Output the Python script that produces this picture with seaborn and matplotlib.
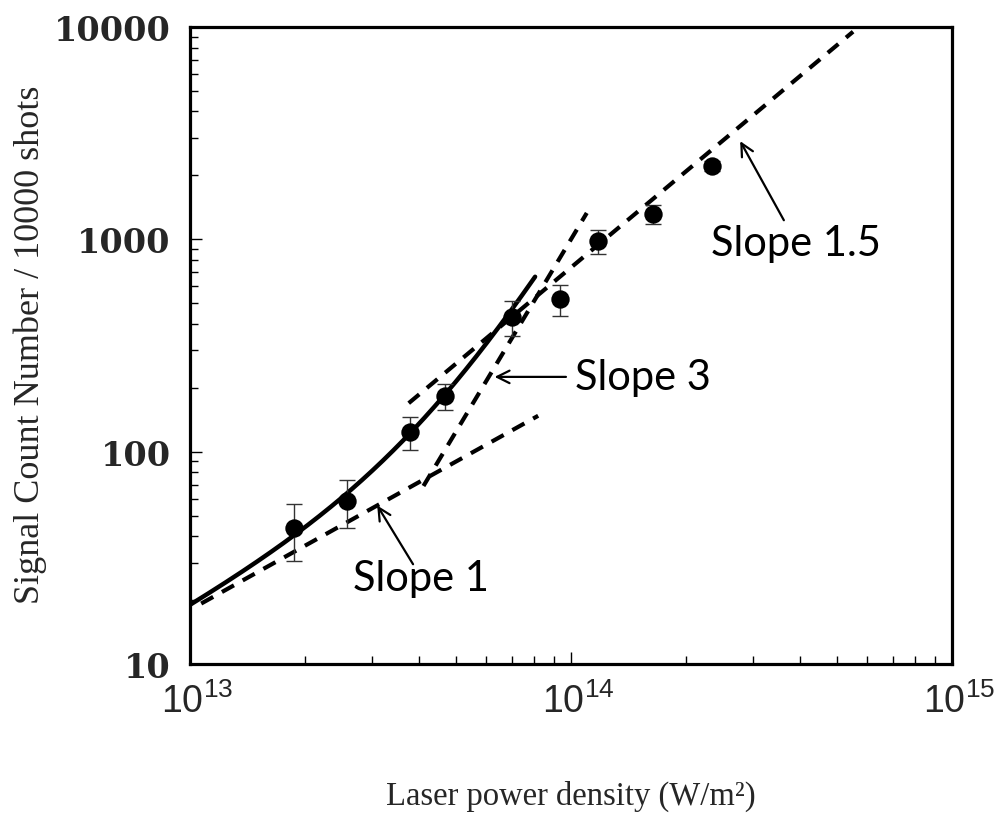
import numpy as np
import pandas as pd
import matplotlib
matplotlib.use("Agg")
import matplotlib.pyplot as plt
import matplotlib.transforms as mtransforms
from matplotlib.ticker import FixedLocator, LogLocator, NullFormatter, FuncFormatter
import seaborn as sns

# Measured signal counts vs. laser power density
power_density = [1.87e13, 2.58e13, 3.78e13, 4.67e13, 7.0e13, 9.35e13, 1.18e14, 1.64e14, 2.34e14]
signal_count = [43.7, 58.6, 124, 183, 430, 524, 982, 1318, 2218]
signal_error = [13, 15, 22, 26, 80, 87, 127, 140, 120]

# Power-law components (intensity expressed in units of 1e13 W/m^2)
unit = 1e13
slope_values = [1.0, 3.0, 1.5]
slope_labels = ["Slope 1", "Slope 3", "Slope 1.5"]
slope_coefs = [18.0, 1.0, 23.3]
slope_ranges = [(1.07e13, 8.2e13), (4.1e13, 1.1e14), (3.75e13, 5.5e14)]
fit_range = (1.0e13, 8.05e13)

x_ticks = [1e13, 1e14, 1e15]
y_ticks = [10, 100, 1000, 10000]

sns.set_style("white")
plt.rcParams["font.family"] = ["Liberation Serif", "DejaVu Serif"]
plt.rcParams["mathtext.fontset"] = "custom"
plt.rcParams["mathtext.rm"] = "Liberation Sans"

fig = plt.figure(figsize=(9.96, 8.2), dpi=100)
ax = fig.add_axes([190 / 996, 155 / 820, 762 / 996, 637 / 820])
ax.set_xscale("log")
ax.set_yscale("log")
ax.set_xlim(1e13, 1e15)
ax.set_ylim(10, 10000)


def power_law(coef, slope, lo, hi, n=200):
    x = np.geomspace(lo, hi, n)
    return x, coef * (x / unit) ** slope


# Solid fit: sum of the slope-1 and slope-3 components
xf = np.geomspace(*fit_range, 300)
yf = slope_coefs[0] * (xf / unit) ** slope_values[0] + slope_coefs[1] * (xf / unit) ** slope_values[1]
sns.lineplot(x=xf, y=yf, ax=ax, color="black", linewidth=3.2, sort=False, zorder=3)

# Dashed power-law guides
for coef, slope, (lo, hi) in zip(slope_coefs, slope_values, slope_ranges):
    xs, ys = power_law(coef, slope, lo, hi)
    sns.lineplot(x=xs, y=ys, ax=ax, color="black", linewidth=3.0,
                 linestyle=(0, (3.3, 2.4)), sort=False, zorder=2)

# Data with error bars
ax.errorbar(power_density, signal_count, yerr=signal_error, fmt="none",
            ecolor="#333333", elinewidth=1.0, capsize=5.5, capthick=1.0, zorder=4)
sns.scatterplot(x=power_density, y=signal_count, ax=ax, s=175, color="black",
                edgecolor="black", linewidth=0, zorder=5)

# Slope annotations
label_font = dict(family=["Lato", "DejaVu Sans"], fontsize=30, color="black")
arrow_kw = dict(arrowstyle="->,head_length=0.9,head_width=0.45", color="black", lw=1.6,
                shrinkA=0, shrinkB=0)

# Slope 1
ax.annotate("", xy=(3.10e13, slope_coefs[0] * 3.10), xytext=(3.85e13, 29.5),
            arrowprops=arrow_kw, zorder=6)
ax.text(4.04e13, 25.5, slope_labels[0], ha="center", va="center", **label_font)
# Slope 3
ax.annotate("", xy=(6.3e13, 225), xytext=(9.7e13, 225), arrowprops=arrow_kw, zorder=6)
ax.text(1.54e14, 225, slope_labels[1], ha="center", va="center", **label_font)
# Slope 1.5
ax.annotate("", xy=(2.78e14, 2900), xytext=(3.62e14, 1230), arrowprops=arrow_kw, zorder=6)
ax.text(3.9e14, 960, slope_labels[2], ha="center", va="center", **label_font)

# Spines and ticks
for side in ["left", "right", "top", "bottom"]:
    ax.spines[side].set_visible(True)
    ax.spines[side].set_linewidth(2.3)
    ax.spines[side].set_color("black")

ax.xaxis.set_major_locator(FixedLocator(x_ticks))
ax.xaxis.set_minor_locator(LogLocator(base=10, subs=np.arange(2, 10)))
ax.xaxis.set_minor_formatter(NullFormatter())
ax.xaxis.set_major_formatter(FuncFormatter(lambda v, p: r"$\mathdefault{10^{%d}}$" % round(np.log10(v))))
ax.yaxis.set_major_locator(FixedLocator(y_ticks))
ax.yaxis.set_minor_locator(LogLocator(base=10, subs=np.arange(2, 10)))
ax.yaxis.set_minor_formatter(NullFormatter())
ax.yaxis.set_major_formatter(FuncFormatter(lambda v, p: "%d" % v))

ax.tick_params(which="both", direction="in", left=True, bottom=True, top=False, right=False,
               color="black", width=1.0)
ax.tick_params(which="major", length=8.5)
ax.tick_params(which="minor", length=6)
ax.tick_params(axis="y", which="major", pad=14)
ax.tick_params(axis="x", which="major", pad=13)

for lab in ax.get_yticklabels():
    lab.set_fontfamily(["DejaVu Serif"])
    lab.set_fontweight("bold")
    lab.set_fontsize(24)
shift = mtransforms.ScaledTranslation(7 / 100, 0, fig.dpi_scale_trans)
for lab in ax.get_xticklabels():
    lab.set_fontfamily(["Liberation Sans", "DejaVu Sans"])
    lab.set_fontsize(27)
    lab.set_transform(lab.get_transform() + shift)

ax.set_xlabel("Laser power density (W/m\u00b2)", fontsize=23.5, family=["Liberation Serif"])
ax.xaxis.set_label_coords(0.5, -0.207)
ax.xaxis.label.set_verticalalignment("center")
ax.set_ylabel("Signal Count Number / 10000 shots", fontsize=26, family=["Liberation Serif"])
ax.yaxis.set_label_coords(-0.21, 0.502)
ax.yaxis.label.set_verticalalignment("center")

fig.savefig("out.png", dpi=100, facecolor="white")
